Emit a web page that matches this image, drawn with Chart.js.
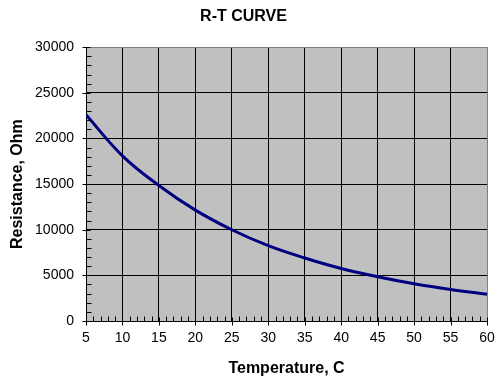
<!DOCTYPE html>
<html>
<head>
<meta charset="utf-8">
<script src="https://cdn.jsdelivr.net/npm/chart.js@4/dist/chart.umd.min.js"></script>
<style>
html,body{margin:0;padding:0;background:#fff;}
#wrap{width:497px;height:382px;}
</style>
</head>
<body>
<div id="wrap"><canvas id="c" width="497" height="382"></canvas></div>
<script>
const temperatures = [5, 10, 15, 20, 25, 30, 35, 40, 45, 50, 55, 60];
const resistance = [22600, 18100, 14850, 12150, 10000, 8250, 6900, 5750, 4850, 4080, 3450, 2930];
const chartTitle = 'R-T CURVE';
const xTitle = 'Temperature, C';
const yTitle = 'Resistance, Ohm';

const FONT = '"Liberation Sans", Arial, sans-serif';

const bgPlugin = {
  id: 'bg',
  beforeDraw(chart) {
    const {ctx, chartArea: a} = chart;
    ctx.save();
    ctx.fillStyle = '#C0C0C0';
    ctx.fillRect(a.left, a.top, a.right - a.left, a.bottom - a.top);
    ctx.restore();
  }
};

const tickPlugin = {
  id: 'minorTicks',
  afterDraw(chart) {
    const {ctx, chartArea: a, scales} = chart;
    const xs = scales.x, ys = scales.y;
    ctx.save();
    ctx.strokeStyle = '#000';
    ctx.lineWidth = 1;
    ctx.beginPath();
    const L = Math.round(a.left) + 0.5;
    for (let v = 0; v <= 30000; v += 1000) {
      const y = Math.round(ys.getPixelForValue(v)) + 0.5;
      if (v % 5000 === 0) { ctx.moveTo(L - 4, y); ctx.lineTo(L + 4, y); }
      else { ctx.moveTo(L, y); ctx.lineTo(L + 5, y); }
    }
    const B = Math.round(a.bottom) + 0.5;
    for (let t = 5; t <= 60; t += 1) {
      const x = Math.round(xs.getPixelForValue(t)) + 0.5;
      if (t % 5 === 0) { ctx.moveTo(x, B - 4); ctx.lineTo(x, B + 4); }
      else { ctx.moveTo(x, B); ctx.lineTo(x, B - 5); }
    }
    ctx.stroke();
    ctx.restore();
  }
};

new Chart(document.getElementById('c'), {
  type: 'line',
  data: {
    datasets: [{
      data: temperatures.map((t, i) => ({x: t, y: resistance[i]})),
      borderColor: '#000080',
      borderWidth: 3,
      pointRadius: 0,
      tension: 0.4,
      fill: false
    }]
  },
  options: {
    responsive: false,
    animation: false,
    layout: {padding: {left: 0, right: 10, top: 0, bottom: 0}},
    plugins: {
      legend: {display: false},
      tooltip: {enabled: false},
      title: {
        display: true,
        text: chartTitle,
        color: '#000',
        font: {family: FONT, size: 16, weight: 'bold'},
        padding: {top: 7, bottom: 21}
      }
    },
    scales: {
      x: {
        type: 'linear',
        min: 5, max: 60,
        afterFit(s) { s.height = 61; s.paddingRight = 0; s.paddingLeft = 0; },
        ticks: {
          stepSize: 5,
          color: '#000',
          font: {family: FONT, size: 14},
          padding: 9,
          maxRotation: 0,
          callback: (v) => String(v)
        },
        grid: {
          drawTicks: false,
          color: (c) => (c.tick && c.tick.value === 60) ? '#808080' : '#000',
          lineWidth: 1
        },
        border: {display: true, color: '#000', width: 1},
        title: {
          display: true,
          text: xTitle,
          color: '#000',
          font: {family: FONT, size: 16, weight: 'bold'},
          padding: {top: 0, bottom: 4}
        }
      },
      y: {
        min: 0, max: 30000,
        afterFit(s) { s.width = 86; s.paddingTop = 0; s.paddingBottom = 0; },
        ticks: {
          stepSize: 5000,
          color: '#000',
          font: {family: FONT, size: 14},
          padding: 12,
          callback: (v) => String(v)
        },
        grid: {
          drawTicks: false,
          color: (c) => (c.tick && c.tick.value === 30000) ? '#808080' : '#000',
          lineWidth: 1
        },
        border: {display: true, color: '#000', width: 1},
        title: {
          display: true,
          text: yTitle,
          color: '#000',
          font: {family: FONT, size: 16, weight: 'bold'},
          padding: {top: 8, bottom: 0}
        }
      }
    }
  },
  plugins: [bgPlugin, tickPlugin]
});
</script>
</body>
</html>
